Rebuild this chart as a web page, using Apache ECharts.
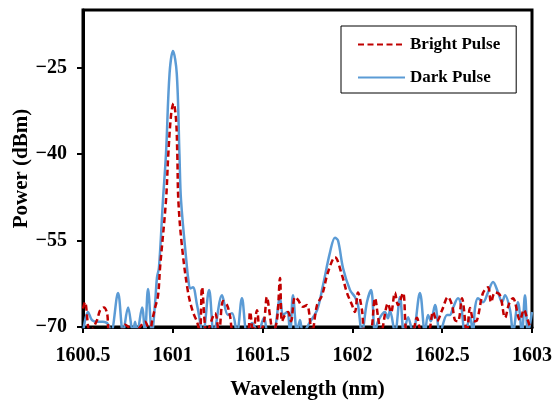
<!DOCTYPE html>
<html>
<head>
<meta charset="utf-8">
<script src="https://cdn.jsdelivr.net/npm/echarts@6/dist/echarts.min.js"></script>
<style>html,body{margin:0;padding:0;background:#fff;}#c{width:557px;height:400px;}</style>
</head>
<body>
<div id="c"></div>
<script>
// Axis settings
const xTicks = [1600.5, 1601, 1601.5, 1602, 1602.5, 1603];
const yTicks = [-70, -55, -40, -25];
const seriesNames = ['Bright Pulse', 'Dark Pulse'];

// Bright pulse spectrum: [wavelength (nm), power (dBm)]
const brightPulse = [
  [1600.500,-66.8],[1600.511,-65.7],[1600.539,-71],[1600.578,-68.8],[1600.595,-67.1],[1600.617,-66.6],
  [1600.634,-67.6],[1600.650,-71],[1600.706,-71],[1600.734,-69.6],[1600.790,-71],[1600.817,-70.0],
  [1600.845,-69.1],[1600.873,-71],[1600.884,-69.1],[1600.901,-66.7],[1600.918,-64.5],[1600.929,-59.7],
  [1600.962,-48.1],[1600.975,-40.0],[1600.991,-33.0],[1601.004,-31.2],[1601.018,-34.0],[1601.025,-40.0],
  [1601.031,-48.1],[1601.051,-56.0],[1601.085,-64.0],[1601.112,-67.4],[1601.135,-69.1],[1601.151,-71],
  [1601.163,-63.1],[1601.190,-71],[1601.235,-67.6],[1601.257,-71],[1601.280,-65.5],[1601.302,-66.2],
  [1601.318,-68.0],[1601.341,-71],[1601.413,-71],[1601.430,-67.4],[1601.447,-71],[1601.469,-67.1],
  [1601.486,-71],[1601.508,-69.0],[1601.524,-64.8],[1601.541,-68.0],[1601.558,-71],[1601.580,-68.8],
  [1601.597,-61.5],[1601.608,-69.0],[1601.625,-67.9],[1601.642,-67.4],[1601.658,-69.0],[1601.680,-64.8],
  [1601.697,-65.3],[1601.725,-66.5],[1601.747,-66.2],[1601.775,-71],[1601.803,-66.2],[1601.831,-64.5],
  [1601.864,-60.5],[1601.903,-57.9],[1601.942,-61.0],[1601.969,-64.0],[1601.998,-66.2],[1602.014,-67.4],
  [1602.031,-64.0],[1602.053,-67.0],[1602.070,-71],[1602.098,-71],[1602.126,-65.0],[1602.143,-68.3],
  [1602.159,-71],[1602.198,-65.9],[1602.215,-67.5],[1602.237,-64.0],[1602.254,-66.2],[1602.282,-64.1],
  [1602.304,-71],[1602.332,-71],[1602.359,-68.4],[1602.387,-71],[1602.421,-71],[1602.449,-67.4],
  [1602.471,-69.0],[1602.499,-67.1],[1602.532,-64.8],[1602.555,-66.2],[1602.571,-68.8],[1602.588,-69.0],
  [1602.610,-65.0],[1602.638,-71],[1602.655,-66.7],[1602.677,-69.0],[1602.694,-68.8],[1602.727,-64.1],
  [1602.755,-63.1],[1602.772,-65.7],[1602.794,-64.0],[1602.822,-64.5],[1602.850,-68.4],[1602.872,-66.0],
  [1602.894,-65.0],[1602.933,-68.8],[1602.955,-67.0],[1602.972,-68.4],[1603.000,-71]
];

// Dark pulse spectrum: [wavelength (nm), power (dBm)]
const darkPulse = [
  [1600.500,-71],[1600.528,-67.4],[1600.550,-68.8],[1600.578,-69.1],[1600.611,-69.1],[1600.639,-69.5],
  [1600.656,-71],[1600.695,-64.1],[1600.723,-71],[1600.751,-66.6],[1600.778,-71],[1600.790,-69.1],
  [1600.801,-71],[1600.829,-66.6],[1600.845,-71],[1600.862,-63.4],[1600.884,-71],[1600.901,-66.0],
  [1600.912,-61.4],[1600.923,-59.7],[1600.945,-48.1],[1600.962,-40.0],[1600.982,-26.0],[1601.001,-22.1],
  [1601.022,-26.0],[1601.037,-40.0],[1601.046,-48.1],[1601.079,-59.7],[1601.085,-61.4],[1601.097,-63.3],
  [1601.112,-63.1],[1601.135,-66.2],[1601.168,-71],[1601.202,-63.6],[1601.229,-71],[1601.274,-64.5],
  [1601.307,-67.9],[1601.330,-67.6],[1601.357,-71],[1601.385,-65.0],[1601.413,-71],[1601.441,-69.3],
  [1601.474,-71],[1601.508,-68.4],[1601.530,-71],[1601.558,-71],[1601.597,-65.0],[1601.614,-67.9],
  [1601.636,-67.4],[1601.653,-71],[1601.669,-64.5],[1601.692,-71],[1601.708,-68.8],[1601.725,-71],
  [1601.764,-69.1],[1601.803,-67.1],[1601.836,-62.8],[1601.875,-57.1],[1601.903,-54.5],[1601.920,-55.0],
  [1601.948,-59.8],[1601.987,-63.6],[1602.014,-64.8],[1602.031,-66.2],[1602.053,-71],[1602.081,-65.7],
  [1602.104,-63.6],[1602.126,-71],[1602.143,-69.0],[1602.181,-67.4],[1602.198,-68.5],[1602.209,-67.1],
  [1602.237,-71],[1602.265,-64.8],[1602.287,-71],[1602.310,-68.3],[1602.337,-71],[1602.376,-64.1],
  [1602.404,-71],[1602.421,-67.9],[1602.437,-69.0],[1602.460,-66.2],[1602.488,-71],[1602.527,-67.9],
  [1602.543,-67.9],[1602.560,-66.7],[1602.588,-65.0],[1602.605,-66.2],[1602.627,-71],[1602.655,-68.4],
  [1602.671,-71],[1602.683,-66.6],[1602.699,-65.0],[1602.727,-65.7],[1602.755,-64.0],[1602.783,-62.2],
  [1602.811,-64.0],[1602.833,-65.7],[1602.850,-64.5],[1602.878,-67.1],[1602.894,-71],[1602.922,-65.7],
  [1602.944,-71],[1602.961,-64.5],[1602.978,-71],[1603.000,-67.4]
];

const FONT = '"Liberation Serif", "Times New Roman", serif';
const chart = echarts.init(document.getElementById('c'), null, {renderer: 'canvas'});
chart.setOption({
  animation: false,
  backgroundColor: '#ffffff',
  grid: {left: 83, right: 25, top: 10, bottom: 73, containLabel: false, outerBoundsMode: 'none',
    show: true, borderColor: '#000', borderWidth: 3, backgroundColor: 'transparent'},
  legend: {
    data: seriesNames,
    orient: 'vertical',
    left: 341, top: 26,
    padding: [10, 16, 7, 16],
    itemWidth: 47, itemHeight: 20, itemGap: 16,
    borderColor: '#000', borderWidth: 1,
    backgroundColor: '#fff',
    itemStyle: {opacity: 0},
    textStyle: {fontFamily: FONT, fontWeight: 'bold', fontSize: 17, color: '#000', padding: [2, 0, 0, 0]}
  },
  xAxis: {
    type: 'value',
    min: xTicks[0], max: xTicks[xTicks.length - 1], interval: 0.5,
    name: 'Wavelength (nm)', nameLocation: 'middle', nameGap: 52, nameMoveOverlap: false,
    nameTextStyle: {fontFamily: FONT, fontWeight: 'bold', fontSize: 21, color: '#000'},
    axisLine: {show: true, onZero: false, lineStyle: {color: '#000', width: 3}},
    axisTick: {show: true, inside: false, length: 6, lineStyle: {color: '#000', width: 2}},
    axisLabel: {fontFamily: FONT, fontWeight: 'bold', fontSize: 20, color: '#000', margin: 19,
      formatter: v => String(Math.round(v * 10) / 10)},
    splitLine: {show: false}
  },
  yAxis: {
    type: 'value',
    min: yTicks[0], max: -15, interval: 15,
    name: 'Power (dBm)', nameLocation: 'middle', nameGap: 51, nameMoveOverlap: false,
    nameTextStyle: {fontFamily: FONT, fontWeight: 'bold', fontSize: 21, color: '#000'},
    axisLine: {show: true, onZero: false, lineStyle: {color: '#000', width: 3}},
    axisTick: {show: true, inside: false, length: 6, lineStyle: {color: '#000', width: 2}},
    axisLabel: {fontFamily: FONT, fontWeight: 'bold', fontSize: 20, color: '#000', margin: 16, showMaxLabel: false,
      formatter: v => (yTicks.indexOf(v) >= 0 ? String(v).replace('-', '\u2212') : '')},
    splitLine: {show: false}
  },
  series: [
    {
      name: seriesNames[1], type: 'line', data: darkPulse, showSymbol: false, symbol: 'none',
      smooth: 0.35, clip: true,
      lineStyle: {color: '#5B9BD5', width: 2.5}, itemStyle: {color: '#5B9BD5'}
    },
    {
      name: seriesNames[0], type: 'line', data: brightPulse, showSymbol: false, symbol: 'none',
      smooth: 0.35, clip: true,
      lineStyle: {color: '#C00000', width: 2.5, type: [6, 3.5]}, itemStyle: {color: '#C00000'}
    }
  ]
});
</script>
</body>
</html>
